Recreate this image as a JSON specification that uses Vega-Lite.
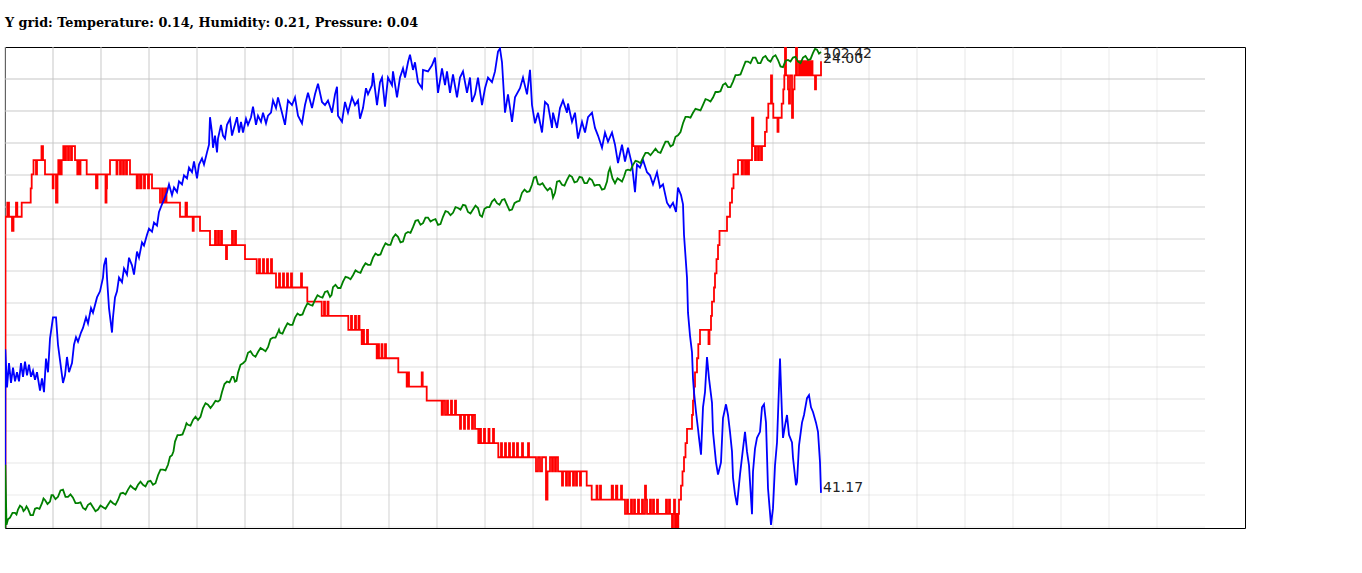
{
"$schema": "https://vega.github.io/schema/vega-lite/v6.json",
"width": 1240,
"height": 481,
"autosize": {"type": "none"},
"padding": {"left": 5, "top": 47, "right": 117, "bottom": 45},
"background": "#ffffff",
"title": {"text": "Y grid: Temperature: 0.14, Humidity: 0.21, Pressure: 0.04", "anchor": "start", "frame": "group", "font": "DejaVu Serif", "fontSize": 12.8, "fontWeight": "bold", "color": "#000000", "baseline": "alphabetic", "offset": 7},
"config": {"view": {"stroke": "#000000", "strokeWidth": 1}},
"datasets": {
"vgrid": [{"gx":0},{"gx":48},{"gx":96},{"gx":144},{"gx":192},{"gx":240},{"gx":288},{"gx":336},{"gx":384},{"gx":432},{"gx":480},{"gx":528},{"gx":576},{"gx":624},{"gx":672},{"gx":720},{"gx":768},{"gx":816},{"gx":864},{"gx":912},{"gx":960},{"gx":1008},{"gx":1056},{"gx":1104},{"gx":1152}],
"hgrid": [{"gy":1,"gx":0},{"gy":1,"gx":1200},{"gy":2,"gx":0},{"gy":2,"gx":1200},{"gy":3,"gx":0},{"gy":3,"gx":1200},{"gy":4,"gx":0},{"gy":4,"gx":1200},{"gy":5,"gx":0},{"gy":5,"gx":1200},{"gy":6,"gx":0},{"gy":6,"gx":1200},{"gy":7,"gx":0},{"gy":7,"gx":1200},{"gy":8,"gx":0},{"gy":8,"gx":1200},{"gy":9,"gx":0},{"gy":9,"gx":1200},{"gy":10,"gx":0},{"gy":10,"gx":1200},{"gy":11,"gx":0},{"gy":11,"gx":1200},{"gy":12,"gx":0},{"gy":12,"gx":1200},{"gy":13,"gx":0},{"gy":13,"gx":1200},{"gy":14,"gx":0},{"gy":14,"gx":1200},{"gy":15,"gx":0},{"gy":15,"gx":1200}],
"temp": [{"t":0,"v":0},{"t":0.5,"v":23.3125},{"t":2.3,"v":23.375},{"t":4,"v":23.3125},{"t":7,"v":23.25},{"t":8.5,"v":23.3125},{"t":11,"v":23.375},{"t":12.3,"v":23.3125},{"t":16.7,"v":23.375},{"t":25.7,"v":23.4375},{"t":26.7,"v":23.5},{"t":28.5,"v":23.5625},{"t":31,"v":23.5},{"t":32,"v":23.5625},{"t":36.5,"v":23.625},{"t":38,"v":23.5625},{"t":40,"v":23.5},{"t":47.7,"v":23.4375},{"t":48.5,"v":23.5},{"t":51,"v":23.375},{"t":52.5,"v":23.5},{"t":53.3,"v":23.5625},{"t":55,"v":23.5},{"t":56.7,"v":23.5625},{"t":58.3,"v":23.625},{"t":60,"v":23.5625},{"t":61,"v":23.625},{"t":63,"v":23.5625},{"t":64,"v":23.625},{"t":66,"v":23.5625},{"t":67,"v":23.625},{"t":70,"v":23.5625},{"t":72.3,"v":23.5},{"t":73.5,"v":23.5625},{"t":74.5,"v":23.5},{"t":75.5,"v":23.5625},{"t":81.7,"v":23.5},{"t":91,"v":23.4375},{"t":92.5,"v":23.5},{"t":100.5,"v":23.375},{"t":101.5,"v":23.4375},{"t":102,"v":23.5},{"t":105,"v":23.5625},{"t":111.5,"v":23.5},{"t":112.5,"v":23.5625},{"t":115,"v":23.5},{"t":116,"v":23.5625},{"t":118,"v":23.5},{"t":119,"v":23.5625},{"t":121,"v":23.5},{"t":122,"v":23.5625},{"t":125,"v":23.5},{"t":131.7,"v":23.4375},{"t":133,"v":23.5},{"t":135,"v":23.4375},{"t":136.5,"v":23.5},{"t":139,"v":23.4375},{"t":140,"v":23.5},{"t":143,"v":23.4375},{"t":144,"v":23.5},{"t":147,"v":23.4375},{"t":155,"v":23.375},{"t":157,"v":23.4375},{"t":158,"v":23.375},{"t":160,"v":23.4375},{"t":161.5,"v":23.375},{"t":175,"v":23.3125},{"t":180.5,"v":23.375},{"t":182,"v":23.3125},{"t":187.7,"v":23.25},{"t":188.7,"v":23.3125},{"t":195,"v":23.25},{"t":205,"v":23.1875},{"t":210,"v":23.25},{"t":211,"v":23.1875},{"t":213,"v":23.25},{"t":214,"v":23.1875},{"t":216,"v":23.25},{"t":217,"v":23.1875},{"t":221,"v":23.125},{"t":222,"v":23.1875},{"t":227,"v":23.25},{"t":228,"v":23.1875},{"t":230,"v":23.25},{"t":231,"v":23.1875},{"t":240,"v":23.125},{"t":251.7,"v":23.0625},{"t":254,"v":23.125},{"t":255,"v":23.0625},{"t":258,"v":23.125},{"t":259,"v":23.0625},{"t":262,"v":23.125},{"t":263,"v":23.0625},{"t":266,"v":23.125},{"t":267,"v":23.0625},{"t":271,"v":23},{"t":274,"v":23.0625},{"t":275,"v":23},{"t":278,"v":23.0625},{"t":279,"v":23},{"t":282,"v":23.0625},{"t":283,"v":23},{"t":286,"v":23.0625},{"t":287,"v":23},{"t":296,"v":23.0625},{"t":297,"v":23},{"t":302.3,"v":22.9375},{"t":316.7,"v":22.875},{"t":319,"v":22.9375},{"t":320,"v":22.875},{"t":322.5,"v":22.9375},{"t":323.5,"v":22.875},{"t":343.3,"v":22.8125},{"t":346,"v":22.875},{"t":347,"v":22.8125},{"t":350,"v":22.875},{"t":351,"v":22.8125},{"t":353.5,"v":22.875},{"t":354.5,"v":22.8125},{"t":356.7,"v":22.75},{"t":358,"v":22.8125},{"t":359,"v":22.75},{"t":362,"v":22.8125},{"t":363,"v":22.75},{"t":371.7,"v":22.6875},{"t":373,"v":22.75},{"t":374,"v":22.6875},{"t":376.5,"v":22.75},{"t":377.5,"v":22.6875},{"t":380,"v":22.75},{"t":381,"v":22.6875},{"t":393.3,"v":22.625},{"t":401.7,"v":22.5625},{"t":403,"v":22.625},{"t":404,"v":22.5625},{"t":416.7,"v":22.625},{"t":417.7,"v":22.5625},{"t":421.7,"v":22.5},{"t":436.7,"v":22.4375},{"t":438,"v":22.5},{"t":440,"v":22.4375},{"t":442,"v":22.5},{"t":443,"v":22.4375},{"t":446,"v":22.5},{"t":447,"v":22.4375},{"t":450,"v":22.5},{"t":451,"v":22.4375},{"t":455,"v":22.375},{"t":456,"v":22.4375},{"t":459,"v":22.375},{"t":460,"v":22.4375},{"t":463,"v":22.375},{"t":464,"v":22.4375},{"t":467,"v":22.375},{"t":468,"v":22.4375},{"t":470,"v":22.375},{"t":473.3,"v":22.3125},{"t":475,"v":22.375},{"t":476,"v":22.3125},{"t":479,"v":22.375},{"t":480,"v":22.3125},{"t":483.5,"v":22.375},{"t":484.5,"v":22.3125},{"t":488,"v":22.375},{"t":489,"v":22.3125},{"t":493.3,"v":22.25},{"t":496,"v":22.3125},{"t":497,"v":22.25},{"t":500,"v":22.3125},{"t":501,"v":22.25},{"t":504,"v":22.3125},{"t":505,"v":22.25},{"t":508,"v":22.3125},{"t":509,"v":22.25},{"t":512,"v":22.3125},{"t":513,"v":22.25},{"t":517,"v":22.3125},{"t":518,"v":22.25},{"t":523,"v":22.3125},{"t":524,"v":22.25},{"t":531,"v":22.1875},{"t":533,"v":22.25},{"t":535,"v":22.1875},{"t":537,"v":22.25},{"t":541,"v":22.0625},{"t":542.5,"v":22.1875},{"t":545,"v":22.25},{"t":547,"v":22.1875},{"t":548,"v":22.25},{"t":550,"v":22.1875},{"t":551,"v":22.25},{"t":553,"v":22.1875},{"t":557,"v":22.125},{"t":558,"v":22.1875},{"t":561,"v":22.125},{"t":562,"v":22.1875},{"t":564,"v":22.125},{"t":565,"v":22.1875},{"t":568,"v":22.125},{"t":569,"v":22.1875},{"t":571,"v":22.125},{"t":572,"v":22.1875},{"t":575,"v":22.125},{"t":576,"v":22.1875},{"t":581.7,"v":22.125},{"t":586.7,"v":22.0625},{"t":591.5,"v":22.125},{"t":592.5,"v":22.0625},{"t":595,"v":22.125},{"t":596,"v":22.0625},{"t":606.7,"v":22.125},{"t":608,"v":22.0625},{"t":611,"v":22.125},{"t":612.3,"v":22.0625},{"t":616,"v":22.125},{"t":617,"v":22.0625},{"t":620,"v":22},{"t":622,"v":22.0625},{"t":623,"v":22},{"t":626,"v":22.0625},{"t":627,"v":22},{"t":629,"v":22.0625},{"t":630,"v":22},{"t":633,"v":22.0625},{"t":634,"v":22},{"t":637,"v":22.0625},{"t":638,"v":22},{"t":640,"v":22.125},{"t":641,"v":22.0625},{"t":642,"v":22},{"t":645,"v":22.0625},{"t":646,"v":22},{"t":648,"v":22.0625},{"t":649,"v":22},{"t":652,"v":22.0625},{"t":653,"v":22},{"t":661,"v":22.0625},{"t":662,"v":22},{"t":664,"v":22.0625},{"t":665,"v":22},{"t":667,"v":21.9375},{"t":668,"v":22},{"t":669,"v":22.0625},{"t":670,"v":21.9375},{"t":671,"v":22},{"t":672,"v":21.9375},{"t":673.3,"v":22},{"t":674,"v":22.0625},{"t":676,"v":22.125},{"t":677.5,"v":22.1875},{"t":679,"v":22.25},{"t":680.5,"v":22.3125},{"t":682,"v":22.375},{"t":687,"v":22.4375},{"t":688,"v":22.5},{"t":689,"v":22.5625},{"t":690,"v":22.625},{"t":692,"v":22.6875},{"t":693.3,"v":22.75},{"t":695,"v":22.8125},{"t":703.5,"v":22.75},{"t":704.5,"v":22.8125},{"t":706,"v":22.875},{"t":707,"v":22.9375},{"t":709,"v":23},{"t":710,"v":23.0625},{"t":711.5,"v":23.125},{"t":713,"v":23.1875},{"t":714.5,"v":23.25},{"t":722,"v":23.3125},{"t":725,"v":23.375},{"t":727,"v":23.4375},{"t":728.5,"v":23.5},{"t":733,"v":23.5625},{"t":736.7,"v":23.5},{"t":738,"v":23.5625},{"t":740,"v":23.5},{"t":741,"v":23.5625},{"t":742.5,"v":23.5},{"t":744,"v":23.5625},{"t":747,"v":23.75},{"t":748.3,"v":23.625},{"t":750,"v":23.5625},{"t":751,"v":23.625},{"t":753,"v":23.5625},{"t":754,"v":23.625},{"t":756,"v":23.5625},{"t":757,"v":23.625},{"t":760,"v":23.6875},{"t":761.7,"v":23.75},{"t":763.3,"v":23.8125},{"t":766,"v":23.9375},{"t":767,"v":23.8125},{"t":768.3,"v":23.75},{"t":772.5,"v":23.6875},{"t":773.5,"v":23.75},{"t":776.7,"v":23.8125},{"t":778.3,"v":23.875},{"t":779.3,"v":23.9375},{"t":780,"v":24.0625},{"t":781,"v":23.9375},{"t":783,"v":23.875},{"t":784,"v":23.8125},{"t":785,"v":23.9375},{"t":787,"v":23.75},{"t":788,"v":23.875},{"t":789.5,"v":23.9375},{"t":791,"v":24.0625},{"t":792,"v":23.9375},{"t":794,"v":24},{"t":795,"v":23.9375},{"t":796,"v":24},{"t":797,"v":23.9375},{"t":798,"v":24},{"t":799,"v":23.9375},{"t":800,"v":24},{"t":801,"v":23.9375},{"t":802,"v":24},{"t":803,"v":23.9375},{"t":804,"v":24},{"t":805,"v":23.9375},{"t":806,"v":24},{"t":807.5,"v":23.9375},{"t":810,"v":23.875},{"t":811,"v":23.9375},{"t":816,"v":24}],
"hum": [{"t":0,"v":0},{"t":0.3,"v":42.11},{"t":2,"v":41.86},{"t":4,"v":42.02},{"t":6,"v":41.89},{"t":8,"v":41.99},{"t":10,"v":41.9},{"t":12,"v":41.96},{"t":14,"v":41.9},{"t":16,"v":42.02},{"t":18,"v":41.93},{"t":20,"v":42.03},{"t":22,"v":41.94},{"t":24,"v":42.01},{"t":26,"v":41.93},{"t":28,"v":41.97},{"t":30,"v":41.91},{"t":32,"v":41.96},{"t":35,"v":41.84},{"t":37,"v":41.92},{"t":39,"v":41.83},{"t":41,"v":42.05},{"t":43,"v":41.96},{"t":45,"v":42.18},{"t":48,"v":42.32},{"t":51,"v":42.32},{"t":53,"v":42.14},{"t":55,"v":42.04},{"t":57,"v":41.94},{"t":58,"v":41.89},{"t":60,"v":41.94},{"t":62,"v":42.06},{"t":64,"v":41.96},{"t":67,"v":42.02},{"t":69,"v":42.14},{"t":71,"v":42.19},{"t":73,"v":42.16},{"t":76,"v":42.22},{"t":78,"v":42.25},{"t":81,"v":42.32},{"t":83,"v":42.28},{"t":86,"v":42.38},{"t":88,"v":42.35},{"t":92,"v":42.45},{"t":95,"v":42.49},{"t":98,"v":42.58},{"t":99,"v":42.66},{"t":101,"v":42.71},{"t":102,"v":42.58},{"t":104,"v":42.38},{"t":107,"v":42.22},{"t":108,"v":42.32},{"t":110,"v":42.45},{"t":112,"v":42.49},{"t":114,"v":42.58},{"t":117,"v":42.55},{"t":119,"v":42.64},{"t":122,"v":42.6},{"t":124,"v":42.71},{"t":127,"v":42.66},{"t":129,"v":42.6},{"t":132,"v":42.75},{"t":134,"v":42.71},{"t":137,"v":42.81},{"t":139,"v":42.79},{"t":142,"v":42.86},{"t":144,"v":42.9},{"t":147,"v":42.88},{"t":149,"v":42.94},{"t":152,"v":42.92},{"t":154,"v":43.01},{"t":157,"v":43.06},{"t":159,"v":43.09},{"t":162,"v":43.14},{"t":164,"v":43.19},{"t":167,"v":43.12},{"t":169,"v":43.17},{"t":172,"v":43.14},{"t":174,"v":43.21},{"t":177,"v":43.19},{"t":179,"v":43.25},{"t":182,"v":43.23},{"t":184,"v":43.3},{"t":187,"v":43.27},{"t":189,"v":43.34},{"t":192,"v":43.23},{"t":194,"v":43.32},{"t":197,"v":43.36},{"t":199,"v":43.32},{"t":202,"v":43.4},{"t":204,"v":43.45},{"t":205,"v":43.63},{"t":207,"v":43.53},{"t":208,"v":43.43},{"t":210,"v":43.51},{"t":212,"v":43.4},{"t":213,"v":43.49},{"t":216,"v":43.58},{"t":218,"v":43.51},{"t":220,"v":43.49},{"t":222,"v":43.58},{"t":225,"v":43.62},{"t":227,"v":43.51},{"t":229,"v":43.56},{"t":232,"v":43.63},{"t":234,"v":43.53},{"t":236,"v":43.6},{"t":238,"v":43.53},{"t":241,"v":43.62},{"t":243,"v":43.58},{"t":246,"v":43.63},{"t":248,"v":43.7},{"t":251,"v":43.58},{"t":253,"v":43.64},{"t":256,"v":43.6},{"t":258,"v":43.66},{"t":261,"v":43.59},{"t":263,"v":43.64},{"t":266,"v":43.66},{"t":268,"v":43.74},{"t":271,"v":43.69},{"t":273,"v":43.76},{"t":277,"v":43.66},{"t":280,"v":43.58},{"t":283,"v":43.74},{"t":287,"v":43.71},{"t":290,"v":43.76},{"t":293,"v":43.64},{"t":297,"v":43.59},{"t":300,"v":43.71},{"t":303,"v":43.79},{"t":307,"v":43.69},{"t":310,"v":43.78},{"t":313,"v":43.85},{"t":317,"v":43.73},{"t":320,"v":43.71},{"t":323,"v":43.74},{"t":327,"v":43.66},{"t":330,"v":43.78},{"t":332,"v":43.83},{"t":333,"v":43.64},{"t":337,"v":43.6},{"t":340,"v":43.73},{"t":343,"v":43.66},{"t":347,"v":43.76},{"t":350,"v":43.71},{"t":353,"v":43.74},{"t":355,"v":43.62},{"t":358,"v":43.69},{"t":361,"v":43.82},{"t":363,"v":43.78},{"t":367,"v":43.84},{"t":368,"v":43.92},{"t":372,"v":43.71},{"t":375,"v":43.86},{"t":377,"v":43.89},{"t":380,"v":43.7},{"t":383,"v":43.89},{"t":387,"v":43.84},{"t":388,"v":43.93},{"t":392,"v":43.76},{"t":395,"v":43.89},{"t":398,"v":43.95},{"t":400,"v":43.89},{"t":403,"v":43.99},{"t":405,"v":44.04},{"t":408,"v":43.94},{"t":410,"v":43.99},{"t":413,"v":43.86},{"t":417,"v":43.82},{"t":418,"v":43.94},{"t":423,"v":43.93},{"t":427,"v":43.97},{"t":430,"v":44.02},{"t":433,"v":43.79},{"t":437,"v":43.95},{"t":440,"v":43.84},{"t":442,"v":43.93},{"t":445,"v":43.79},{"t":448,"v":43.91},{"t":452,"v":43.76},{"t":455,"v":43.89},{"t":458,"v":43.93},{"t":462,"v":43.79},{"t":465,"v":43.89},{"t":467,"v":43.73},{"t":470,"v":43.78},{"t":473,"v":43.89},{"t":477,"v":43.71},{"t":480,"v":43.82},{"t":483,"v":43.89},{"t":487,"v":43.86},{"t":490,"v":43.93},{"t":493,"v":44.06},{"t":495,"v":44.08},{"t":497,"v":43.99},{"t":500,"v":43.66},{"t":503,"v":43.78},{"t":507,"v":43.6},{"t":510,"v":43.76},{"t":515,"v":43.82},{"t":518,"v":43.89},{"t":522,"v":43.78},{"t":525,"v":43.94},{"t":527,"v":43.71},{"t":530,"v":43.59},{"t":533,"v":43.66},{"t":537,"v":43.53},{"t":540,"v":43.73},{"t":543,"v":43.71},{"t":547,"v":43.56},{"t":548,"v":43.66},{"t":552,"v":43.56},{"t":555,"v":43.69},{"t":558,"v":43.74},{"t":562,"v":43.66},{"t":563,"v":43.72},{"t":567,"v":43.6},{"t":570,"v":43.66},{"t":573,"v":43.49},{"t":577,"v":43.6},{"t":580,"v":43.53},{"t":583,"v":43.63},{"t":587,"v":43.66},{"t":590,"v":43.56},{"t":593,"v":43.51},{"t":597,"v":43.43},{"t":600,"v":43.53},{"t":603,"v":43.47},{"t":607,"v":43.53},{"t":610,"v":43.45},{"t":613,"v":43.33},{"t":617,"v":43.45},{"t":620,"v":43.34},{"t":623,"v":43.43},{"t":627,"v":43.32},{"t":630,"v":43.14},{"t":632,"v":43.32},{"t":635,"v":43.3},{"t":638,"v":43.35},{"t":642,"v":43.27},{"t":645,"v":43.25},{"t":648,"v":43.19},{"t":652,"v":43.27},{"t":655,"v":43.17},{"t":658,"v":43.19},{"t":662,"v":43.07},{"t":665,"v":43.04},{"t":668,"v":43.07},{"t":671,"v":43.01},{"t":673,"v":43.17},{"t":676,"v":43.12},{"t":678,"v":43.06},{"t":679,"v":42.86},{"t":682,"v":42.58},{"t":683,"v":42.35},{"t":685,"v":42.2},{"t":687,"v":42.09},{"t":688,"v":41.92},{"t":689,"v":41.83},{"t":691,"v":41.7},{"t":693,"v":41.59},{"t":694,"v":41.53},{"t":696,"v":41.42},{"t":698,"v":41.73},{"t":700,"v":41.83},{"t":702,"v":42.06},{"t":704,"v":41.92},{"t":707,"v":41.76},{"t":708,"v":41.57},{"t":711,"v":41.37},{"t":713,"v":41.29},{"t":716,"v":41.37},{"t":718,"v":41.66},{"t":721,"v":41.75},{"t":723,"v":41.68},{"t":725,"v":41.57},{"t":727,"v":41.44},{"t":728,"v":41.27},{"t":730,"v":41.16},{"t":732,"v":41.09},{"t":735,"v":41.29},{"t":738,"v":41.46},{"t":740,"v":41.57},{"t":742,"v":41.44},{"t":744,"v":41.35},{"t":747,"v":41.03},{"t":748,"v":41.31},{"t":750,"v":41.46},{"t":752,"v":41.53},{"t":755,"v":41.57},{"t":757,"v":41.73},{"t":759,"v":41.75},{"t":761,"v":41.63},{"t":763,"v":41.2},{"t":766,"v":40.96},{"t":768,"v":41.07},{"t":770,"v":41.35},{"t":772,"v":41.5},{"t":775,"v":42.05},{"t":777,"v":41.68},{"t":778,"v":41.53},{"t":780,"v":41.61},{"t":782,"v":41.68},{"t":784,"v":41.55},{"t":787,"v":41.5},{"t":788,"v":41.4},{"t":791,"v":41.22},{"t":792,"v":41.24},{"t":794,"v":41.48},{"t":797,"v":41.63},{"t":799,"v":41.68},{"t":802,"v":41.79},{"t":804,"v":41.81},{"t":806,"v":41.73},{"t":808,"v":41.7},{"t":811,"v":41.63},{"t":813,"v":41.57},{"t":815,"v":41.37},{"t":816,"v":41.17}],
"pres": [{"t":0,"v":0},{"t":0.3,"v":101.904},{"t":1.5,"v":101.829},{"t":3,"v":101.836},{"t":5,"v":101.838},{"t":7.5,"v":101.844},{"t":10,"v":101.844},{"t":11.5,"v":101.842},{"t":13,"v":101.848},{"t":15,"v":101.853},{"t":17,"v":101.851},{"t":18.5,"v":101.846},{"t":20,"v":101.848},{"t":21.5,"v":101.852},{"t":23,"v":101.849},{"t":25.5,"v":101.841},{"t":28,"v":101.841},{"t":30,"v":101.849},{"t":32,"v":101.85},{"t":34.5,"v":101.849},{"t":37,"v":101.856},{"t":38.5,"v":101.862},{"t":40,"v":101.86},{"t":42.5,"v":101.855},{"t":45,"v":101.858},{"t":46.5,"v":101.866},{"t":48,"v":101.866},{"t":50.5,"v":101.861},{"t":53,"v":101.864},{"t":55.5,"v":101.872},{"t":58,"v":101.873},{"t":60.5,"v":101.864},{"t":63,"v":101.864},{"t":65.5,"v":101.867},{"t":68,"v":101.863},{"t":70.5,"v":101.856},{"t":73,"v":101.856},{"t":75.5,"v":101.857},{"t":78,"v":101.85},{"t":80.5,"v":101.848},{"t":83,"v":101.854},{"t":85.5,"v":101.856},{"t":88,"v":101.851},{"t":90.5,"v":101.846},{"t":93,"v":101.848},{"t":95.5,"v":101.853},{"t":98,"v":101.851},{"t":100.5,"v":101.849},{"t":103,"v":101.854},{"t":105.5,"v":101.859},{"t":108,"v":101.856},{"t":110.5,"v":101.854},{"t":113,"v":101.86},{"t":115.5,"v":101.868},{"t":118,"v":101.869},{"t":120.5,"v":101.867},{"t":123,"v":101.873},{"t":125.5,"v":101.878},{"t":128,"v":101.875},{"t":130.5,"v":101.873},{"t":133,"v":101.879},{"t":135.5,"v":101.883},{"t":138,"v":101.879},{"t":140.5,"v":101.877},{"t":143,"v":101.883},{"t":145.5,"v":101.884},{"t":148,"v":101.879},{"t":150.5,"v":101.881},{"t":153,"v":101.891},{"t":155.5,"v":101.898},{"t":158,"v":101.898},{"t":160.5,"v":101.897},{"t":163,"v":101.904},{"t":165,"v":101.914},{"t":167,"v":101.916},{"t":168.5,"v":101.921},{"t":170,"v":101.933},{"t":172.5,"v":101.941},{"t":175,"v":101.941},{"t":177.5,"v":101.942},{"t":180,"v":101.95},{"t":181.5,"v":101.956},{"t":183,"v":101.954},{"t":185.5,"v":101.953},{"t":188,"v":101.96},{"t":190.5,"v":101.964},{"t":193,"v":101.96},{"t":195.5,"v":101.964},{"t":198,"v":101.975},{"t":200.5,"v":101.981},{"t":203,"v":101.979},{"t":205.5,"v":101.975},{"t":208,"v":101.979},{"t":210.5,"v":101.984},{"t":213,"v":101.983},{"t":215,"v":101.985},{"t":217,"v":101.995},{"t":219.5,"v":102.005},{"t":222,"v":102.008},{"t":224.5,"v":102.007},{"t":227,"v":102.014},{"t":228.5,"v":102.014},{"t":230,"v":102.008},{"t":231.5,"v":102.009},{"t":233,"v":102.019},{"t":235.5,"v":102.029},{"t":238,"v":102.031},{"t":240.5,"v":102.034},{"t":243,"v":102.044},{"t":245.5,"v":102.046},{"t":248,"v":102.041},{"t":250.5,"v":102.039},{"t":253,"v":102.045},{"t":255.5,"v":102.05},{"t":258,"v":102.048},{"t":260.5,"v":102.046},{"t":263,"v":102.051},{"t":265.5,"v":102.061},{"t":268,"v":102.063},{"t":270.5,"v":102.063},{"t":273,"v":102.07},{"t":274,"v":102.073},{"t":275,"v":102.069},{"t":277.5,"v":102.068},{"t":280,"v":102.075},{"t":282.5,"v":102.081},{"t":285,"v":102.079},{"t":287.5,"v":102.079},{"t":290,"v":102.088},{"t":292.5,"v":102.093},{"t":295,"v":102.091},{"t":297.5,"v":102.092},{"t":300,"v":102.1},{"t":302.5,"v":102.106},{"t":305,"v":102.104},{"t":307.5,"v":102.103},{"t":310,"v":102.11},{"t":312.5,"v":102.116},{"t":315,"v":102.114},{"t":317.5,"v":102.113},{"t":320,"v":102.12},{"t":322.5,"v":102.121},{"t":325,"v":102.114},{"t":326.5,"v":102.116},{"t":328,"v":102.126},{"t":330.5,"v":102.129},{"t":333,"v":102.125},{"t":335.5,"v":102.125},{"t":338,"v":102.133},{"t":340.5,"v":102.139},{"t":343,"v":102.138},{"t":345.5,"v":102.136},{"t":348,"v":102.141},{"t":350.5,"v":102.147},{"t":353,"v":102.145},{"t":355.5,"v":102.144},{"t":358,"v":102.151},{"t":360.5,"v":102.156},{"t":363,"v":102.154},{"t":365.5,"v":102.154},{"t":368,"v":102.163},{"t":370.5,"v":102.168},{"t":373,"v":102.166},{"t":375.5,"v":102.167},{"t":378,"v":102.175},{"t":380.5,"v":102.181},{"t":383,"v":102.179},{"t":385.5,"v":102.179},{"t":388,"v":102.188},{"t":390.5,"v":102.192},{"t":393,"v":102.189},{"t":395.5,"v":102.182},{"t":398,"v":102.183},{"t":400.5,"v":102.193},{"t":403,"v":102.195},{"t":405.5,"v":102.194},{"t":408,"v":102.201},{"t":410.5,"v":102.209},{"t":413,"v":102.21},{"t":415.5,"v":102.204},{"t":418,"v":102.206},{"t":420.5,"v":102.213},{"t":423,"v":102.213},{"t":425.5,"v":102.208},{"t":428,"v":102.21},{"t":430.5,"v":102.211},{"t":433,"v":102.204},{"t":435.5,"v":102.205},{"t":438,"v":102.214},{"t":440.5,"v":102.221},{"t":443,"v":102.22},{"t":445.5,"v":102.216},{"t":448,"v":102.219},{"t":450.5,"v":102.226},{"t":453,"v":102.225},{"t":455.5,"v":102.223},{"t":458,"v":102.229},{"t":460.5,"v":102.228},{"t":463,"v":102.22},{"t":465.5,"v":102.218},{"t":468,"v":102.223},{"t":470.5,"v":102.228},{"t":473,"v":102.225},{"t":475,"v":102.216},{"t":477,"v":102.214},{"t":479.5,"v":102.224},{"t":482,"v":102.226},{"t":484.5,"v":102.226},{"t":487,"v":102.233},{"t":489.5,"v":102.236},{"t":492,"v":102.231},{"t":494.5,"v":102.229},{"t":497,"v":102.235},{"t":499.5,"v":102.236},{"t":502,"v":102.229},{"t":504.5,"v":102.222},{"t":507,"v":102.223},{"t":509.5,"v":102.231},{"t":512,"v":102.233},{"t":514.5,"v":102.234},{"t":517,"v":102.244},{"t":519.5,"v":102.248},{"t":522,"v":102.245},{"t":524.5,"v":102.246},{"t":527,"v":102.254},{"t":529,"v":102.263},{"t":531,"v":102.264},{"t":533,"v":102.255},{"t":535,"v":102.254},{"t":537.5,"v":102.256},{"t":540,"v":102.251},{"t":542.5,"v":102.247},{"t":545,"v":102.25},{"t":546.5,"v":102.248},{"t":548,"v":102.238},{"t":550,"v":102.244},{"t":552,"v":102.258},{"t":554.5,"v":102.259},{"t":557,"v":102.254},{"t":559.5,"v":102.253},{"t":562,"v":102.26},{"t":564.5,"v":102.266},{"t":567,"v":102.264},{"t":569.5,"v":102.257},{"t":572,"v":102.258},{"t":574.5,"v":102.264},{"t":577,"v":102.263},{"t":579.5,"v":102.256},{"t":582,"v":102.256},{"t":584.5,"v":102.262},{"t":587,"v":102.26},{"t":589.5,"v":102.253},{"t":592,"v":102.254},{"t":594.5,"v":102.254},{"t":597,"v":102.248},{"t":599.5,"v":102.249},{"t":602,"v":102.258},{"t":603.5,"v":102.27},{"t":605,"v":102.275},{"t":607.5,"v":102.262},{"t":610,"v":102.256},{"t":612.5,"v":102.262},{"t":615,"v":102.26},{"t":617,"v":102.258},{"t":619,"v":102.264},{"t":621,"v":102.272},{"t":623,"v":102.273},{"t":625.5,"v":102.272},{"t":628,"v":102.279},{"t":630.5,"v":102.284},{"t":633,"v":102.283},{"t":635.5,"v":102.281},{"t":638,"v":102.288},{"t":640.5,"v":102.294},{"t":643,"v":102.294},{"t":645.5,"v":102.291},{"t":648,"v":102.295},{"t":650.5,"v":102.299},{"t":653,"v":102.295},{"t":655.5,"v":102.294},{"t":658,"v":102.301},{"t":660.5,"v":102.308},{"t":663,"v":102.308},{"t":665.5,"v":102.302},{"t":668,"v":102.304},{"t":670.5,"v":102.314},{"t":673,"v":102.316},{"t":675.5,"v":102.32},{"t":678,"v":102.331},{"t":680.5,"v":102.339},{"t":683,"v":102.339},{"t":685.5,"v":102.338},{"t":688,"v":102.344},{"t":690.5,"v":102.349},{"t":693,"v":102.348},{"t":695.5,"v":102.347},{"t":698,"v":102.354},{"t":700.5,"v":102.361},{"t":703,"v":102.36},{"t":705.5,"v":102.358},{"t":708,"v":102.363},{"t":710.5,"v":102.37},{"t":713,"v":102.37},{"t":715.5,"v":102.371},{"t":718,"v":102.379},{"t":720.5,"v":102.381},{"t":723,"v":102.376},{"t":725.5,"v":102.376},{"t":728,"v":102.383},{"t":730.5,"v":102.391},{"t":733,"v":102.391},{"t":735.5,"v":102.392},{"t":738,"v":102.4},{"t":740.5,"v":102.408},{"t":743,"v":102.408},{"t":745.5,"v":102.406},{"t":748,"v":102.413},{"t":750.5,"v":102.413},{"t":753,"v":102.406},{"t":755.5,"v":102.406},{"t":758,"v":102.413},{"t":760.5,"v":102.415},{"t":763,"v":102.41},{"t":765.5,"v":102.408},{"t":768,"v":102.414},{"t":770.5,"v":102.416},{"t":773,"v":102.41},{"t":775.5,"v":102.402},{"t":778,"v":102.401},{"t":780.5,"v":102.409},{"t":783,"v":102.41},{"t":785.5,"v":102.408},{"t":788,"v":102.413},{"t":790.5,"v":102.414},{"t":793,"v":102.408},{"t":795.5,"v":102.406},{"t":798,"v":102.413},{"t":800.5,"v":102.415},{"t":803,"v":102.41},{"t":805.5,"v":102.411},{"t":808,"v":102.419},{"t":810,"v":102.424},{"t":812,"v":102.423},{"t":814,"v":102.418},{"t":816,"v":102.42}]
},
"layer": [
{"data": {"name": "vgrid"}, "mark": {"type": "rule", "stroke": "#c5c5c5", "strokeWidth": 1}, "encoding": {"x": {"field": "gx", "type": "quantitative", "scale": {"domain": [0, 1240], "nice": false, "zero": false}, "axis": null}, "opacity": {"field": "gx", "type": "quantitative", "scale": {"domain": [0, 1152], "range": [1, 0.3]}, "legend": null}}},
{"data": {"name": "hgrid"}, "mark": {"type": "line", "stroke": "#c5c5c5", "strokeWidth": 1}, "encoding": {"x": {"field": "gx", "type": "quantitative", "axis": null}, "y": {"field": "gy", "type": "quantitative", "scale": {"domain": [0, 15.03125], "reverse": true, "nice": false, "zero": false}, "axis": null}, "detail": {"field": "gy", "type": "nominal"}, "opacity": {"field": "gy", "type": "quantitative", "scale": {"domain": [1, 15], "range": [1, 0.3]}, "legend": null}}},
{"data": {"name": "temp"}, "layer": [
  {"mark": {"type": "line", "color": "#ff0000", "strokeWidth": 1.8, "interpolate": "step-after", "clip": true}, "encoding": {"x": {"field": "t", "type": "quantitative", "axis": null}, "y": {"field": "v", "type": "quantitative", "scale": {"domain": [21.9375, 24.0625], "nice": false, "zero": false}, "axis": null}}},
  {"transform": [{"filter": "datum.t === 816"}], "mark": {"type": "text", "align": "left", "baseline": "middle", "dx": 2, "dy": -2, "font": "DejaVu Sans", "fontSize": 14, "color": "#222222"}, "encoding": {"x": {"field": "t", "type": "quantitative", "axis": null}, "y": {"field": "v", "type": "quantitative", "axis": null}, "text": {"field": "v", "type": "quantitative", "format": ".2f"}}}
]},
{"data": {"name": "hum"}, "layer": [
  {"mark": {"type": "line", "color": "#0000ff", "strokeWidth": 1.8, "clip": true}, "encoding": {"x": {"field": "t", "type": "quantitative", "axis": null}, "y": {"field": "v", "type": "quantitative", "scale": {"domain": [40.94, 44.09], "nice": false, "zero": false}, "axis": null}}},
  {"transform": [{"filter": "datum.t === 816"}], "mark": {"type": "text", "align": "left", "baseline": "middle", "dx": 2, "dy": -5, "font": "DejaVu Sans", "fontSize": 14, "color": "#222222"}, "encoding": {"x": {"field": "t", "type": "quantitative", "axis": null}, "y": {"field": "v", "type": "quantitative", "axis": null}, "text": {"field": "v", "type": "quantitative", "format": ".2f"}}}
]},
{"data": {"name": "pres"}, "layer": [
  {"mark": {"type": "line", "color": "#008000", "strokeWidth": 1.8, "clip": true}, "encoding": {"x": {"field": "t", "type": "quantitative", "axis": null}, "y": {"field": "v", "type": "quantitative", "scale": {"domain": [101.825, 102.42625], "nice": false, "zero": false}, "axis": null}}},
  {"transform": [{"filter": "datum.t === 816"}], "mark": {"type": "text", "align": "left", "baseline": "middle", "dx": 2, "dy": 2, "font": "DejaVu Sans", "fontSize": 14, "color": "#222222"}, "encoding": {"x": {"field": "t", "type": "quantitative", "axis": null}, "y": {"field": "v", "type": "quantitative", "axis": null}, "text": {"field": "v", "type": "quantitative", "format": ".2f"}}}
]}
],
"resolve": {"scale": {"y": "independent", "opacity": "independent"}}
}
